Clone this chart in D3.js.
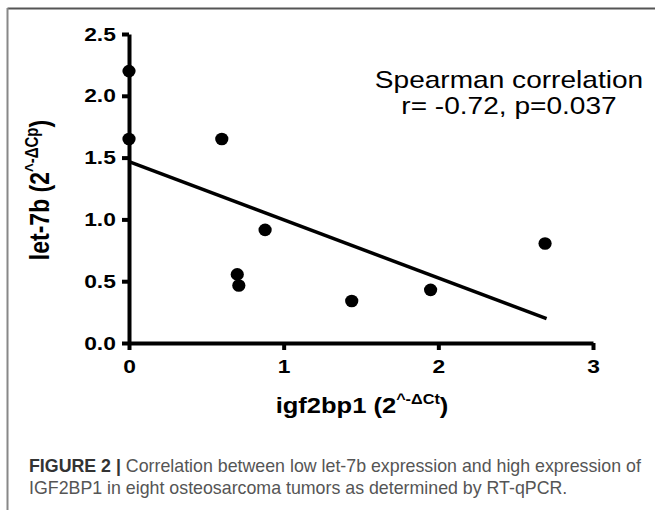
<!doctype html>
<html>
<head>
  <script src="https://cdnjs.cloudflare.com/ajax/libs/d3/7.8.5/d3.min.js" type="text/JavaScript"></script>
  <style>
    body { margin: 0; background: #fff; }
    text { font-family: "Liberation Sans", Arial, sans-serif; }
  </style>
</head>
<body>
<svg height="510" width="655"></svg>
<script type="text/javascript">
// values
var igf2bp1 = [0, 0, 0.60, 0.70, 0.71, 0.88, 1.44, 1.95, 2.69];
var let7b   = [2.20, 1.65, 1.65, 0.555, 0.465, 0.915, 0.34, 0.43, 0.805];
var fitX = [0, 2.70];
var fitY = [1.467, 0.197];
var xTicks = [0, 1, 2, 3];
var yTicks = [0, 0.5, 1.0, 1.5, 2.0, 2.5];
var statLines = ["Spearman correlation", "r= -0.72, p=0.037"];
var captionBold = "FIGURE 2 |";
var captionLines = [" Correlation between low let-7b expression and high expression of",
                    "IGF2BP1 in eight osteosarcoma tumors as determined by RT-qPCR."];

var svg = d3.select("svg");
var sx = 1.2; // the figure is stretched sideways

var x = d3.scaleLinear().domain([0, 3]).range([129, 593]);
var y = d3.scaleLinear().domain([0, 2.5]).range([343, 34]);

// frame of the figure panel
svg.append("line").attr("x1", 7.5).attr("x2", 655).attr("y1", 8.5).attr("y2", 8.5)
  .style("stroke", "#555").style("stroke-width", 2);
svg.append("line").attr("x1", 7.5).attr("x2", 7.5).attr("y1", 8).attr("y2", 510)
  .style("stroke", "#888").style("stroke-width", 2);

function styleAxis(g) {
  g.select(".domain").style("stroke-width", 4);
  g.selectAll(".tick line").style("stroke-width", 4);
  g.selectAll(".tick text")
    .style("font-size", "19px").style("font-weight", "bold").style("fill", "#000");
}

var xAxis = svg.append("g")
  .attr("transform", "translate(0," + y(0) + ")")
  .call(d3.axisBottom(x).tickValues(xTicks).tickFormat(d3.format("d"))
    .tickSize(7).tickSizeOuter(0).tickPadding(10));
styleAxis(xAxis);
xAxis.selectAll(".tick text").attr("transform", "scale(" + sx + ",1)");

var yAxis = svg.append("g")
  .attr("transform", "translate(" + x(0) + ",0)")
  .call(d3.axisLeft(y).tickValues(yTicks).tickFormat(d3.format(".1f"))
    .tickSize(7).tickSizeOuter(0).tickPadding(4));
styleAxis(yAxis);
yAxis.selectAll(".tick text").attr("transform", "scale(" + sx + ",1)");

// regression line
svg.append("line")
  .attr("x1", x(fitX[0])).attr("y1", y(fitY[0]))
  .attr("x2", x(fitX[1])).attr("y2", y(fitY[1]))
  .style("stroke", "#000").style("stroke-width", 3.5);

svg.append("g").selectAll("ellipse")
  .data(igf2bp1.map((v, i) => ({x: v, y: let7b[i]})))
  .enter().append("ellipse")
  .attr("cx", d => x(d.x)).attr("cy", d => y(d.y))
  .attr("rx", 6.6).attr("ry", 6.3)
  .style("fill", "#000");

// stats annotation
svg.append("g").attr("transform", "translate(509,0) scale(1.17,1)")
  .selectAll("text").data(statLines).enter().append("text")
  .attr("y", (d, i) => 88 + i * 26)
  .attr("text-anchor", "middle")
  .style("font-size", "24px")
  .text(d => d);

// axis titles
var xt = svg.append("text")
  .attr("transform", "translate(362,413) scale(1.16,1)")
  .attr("text-anchor", "middle")
  .style("font-size", "22px").style("font-weight", "bold");
xt.append("tspan").text("igf2bp1 (2");
xt.append("tspan").attr("dy", -9).style("font-size", "14px").text("^-\u0394Ct");
xt.append("tspan").attr("dy", 9).text(")");

var yt = svg.append("text")
  .attr("transform", "translate(49,190) scale(" + sx + ",1) rotate(-90)")
  .attr("text-anchor", "middle")
  .style("font-size", "23px").style("font-weight", "bold");
yt.append("tspan").text("let-7b (2");
yt.append("tspan").attr("dy", -9).style("font-size", "15px").text("^-\u0394Cp");
yt.append("tspan").attr("dy", 9).text(")");

// caption
var c1 = svg.append("text").attr("x", 29).attr("y", 472)
  .style("font-size", "17.8px").style("fill", "#555");
c1.append("tspan").style("font-weight", "bold").style("fill", "#333").text(captionBold);
c1.append("tspan").text(captionLines[0]);
svg.append("text").attr("x", 29).attr("y", 494)
  .style("font-size", "17.8px").style("fill", "#555")
  .text(captionLines[1]);
</script>
</body>
</html>
